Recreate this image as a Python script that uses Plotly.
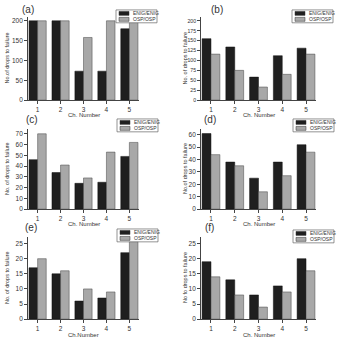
import plotly.graph_objects as go

W, H = 338, 341

channels = [1, 2, 3, 4, 5]
panel_labels = ["(a)", "(b)", "(c)", "(d)", "(e)", "(f)"]
series_names = ["ENIG/ENIG", "OSP/OSP"]

enig_a = [200, 200, 73, 73, 180]
osp_a = [200, 200, 158, 200, 200]
enig_b = [155, 134, 58, 112, 131]
osp_b = [116, 75, 33, 65, 116]
enig_c = [46, 34, 24, 25, 49]
osp_c = [70, 41, 29, 53, 62]
enig_d = [61, 38, 25, 38, 52]
osp_d = [44, 35, 14, 27, 46]
enig_e = [17, 15, 6, 7, 22]
osp_e = [20, 16, 10, 9, 27]
enig_f = [19, 13, 8, 11, 20]
osp_f = [14, 8, 4, 9, 16]

yticks_a = [0, 50, 100, 150, 200]
yticks_b = [0, 25, 50, 75, 100, 125, 150, 175, 200]
yticks_c = [0, 10, 20, 30, 40, 50, 60, 70]
yticks_d = [0, 10, 20, 30, 40, 50, 60]
yticks_e = [0, 5, 10, 15, 20, 25]
yticks_f = [0, 5, 10, 15, 20, 25]

y_titles = ["No.of drops to failure", "No. of drops to failure", "No. of drops to failure",
            "No.of drops to failure", "No. of drops to failure", "No fo drops to failure"]
x_titles = ["Ch. Number", "Ch. Number", "Ch. Number", "Ch. Number", "Ch.Number", "Ch. Number"]

enig_all = [enig_a, enig_b, enig_c, enig_d, enig_e, enig_f]
osp_all = [osp_a, osp_b, osp_c, osp_d, osp_e, osp_f]
yticks_all = [yticks_a, yticks_b, yticks_c, yticks_d, yticks_e, yticks_f]
y_tops = [210, 210, 74.6, 64.8, 27.2, 27.2]
ytick_sizes = [6.5, 5.2, 6.5, 6.5, 6.5, 6.5]

# geometry in pixels
cols = [(28, 139), (201, 316)]
rows = [(17, 101), (130, 211), (239, 322)]
xtitle_y = [116.5, 225.5, 337.5]
legend_boxes = [(116, 10), (292, 10), (117, 120), (293, 120), (117, 231), (293, 232)]
label_pos = [(28, 10), (217, 10), (32, 121), (210, 121), (31, 230), (210, 230)]
ytitle_x = [7, 185]

def px(x):
    return x / W

def py(y):
    return 1 - y / H

FONT = "Liberation Sans, Arial, sans-serif"
TXT = "#333333"
BLACK = "#1f1f1f"
GRAY = "#a8a8a8"

fig = go.Figure()
annotations = []
shapes = []

def ann(x, y, text, size, **kw):
    d = dict(x=px(x), y=py(y), xref="paper", yref="paper", text=text, showarrow=False,
             xanchor="center", yanchor="middle",
             font=dict(size=size, color=TXT, family=FONT))
    d.update(kw)
    annotations.append(d)

for i in range(6):
    r, c = divmod(i, 2)
    n = "" if i == 0 else str(i + 1)
    xa, ya = "x" + n, "y" + n
    fig.add_trace(go.Bar(x=channels, y=enig_all[i], name=series_names[0], xaxis=xa, yaxis=ya,
                         marker=dict(color=BLACK, line=dict(color="#111111", width=0.5)),
                         showlegend=False))
    fig.add_trace(go.Bar(x=channels, y=osp_all[i], name=series_names[1], xaxis=xa, yaxis=ya,
                         marker=dict(color=GRAY, line=dict(color="#444444", width=0.5)),
                         showlegend=False))
    x0, x1 = cols[c]
    t, b = rows[r]
    fig.update_layout(**{
        "xaxis" + n: dict(domain=[px(x0), px(x1)], anchor=ya, range=[0.58, 5.42],
                          tickvals=channels, ticks="outside", ticklen=3, tickwidth=0.8,
                          tickcolor="#444", showline=True, linecolor="#444", linewidth=0.8,
                          showgrid=False, zeroline=False,
                          tickfont=dict(size=6.5, color=TXT, family=FONT)),
        "yaxis" + n: dict(domain=[py(b), py(t)], anchor=xa, range=[0, y_tops[i]],
                          tickvals=yticks_all[i], ticks="outside", ticklen=3, tickwidth=0.8,
                          tickcolor="#444", showline=True, linecolor="#444", linewidth=0.8,
                          showgrid=False, zeroline=False,
                          tickfont=dict(size=ytick_sizes[i], color=TXT, family=FONT)),
    })
    # axis titles
    ann(ytitle_x[c], (t + b) / 2, y_titles[i], 5.5, textangle=-90)
    ann((x0 + x1) / 2, xtitle_y[r], x_titles[i], 6)
    # panel label
    lx, ly = label_pos[i]
    ann(lx, ly, panel_labels[i], 10)
    # legend box
    bx, by = legend_boxes[i]
    bw, bh = 41, 13
    shapes.append(dict(type="rect", xref="paper", yref="paper",
                       x0=px(bx), x1=px(bx + bw), y0=py(by + bh), y1=py(by),
                       line=dict(color="#666", width=0.7), fillcolor="white", layer="above"))
    for k, (col, nm) in enumerate(zip([BLACK, GRAY], series_names)):
        cy = by + 3.5 + k * 6
        shapes.append(dict(type="rect", xref="paper", yref="paper",
                           x0=px(bx + 3), x1=px(bx + 13), y0=py(cy + 2), y1=py(cy - 2),
                           line=dict(color="#333", width=0.5), fillcolor=col, layer="above"))
        ann(bx + 15, cy, nm, 5, xanchor="left")

fig.update_layout(width=W, height=H, margin=dict(l=0, r=0, t=0, b=0),
                  paper_bgcolor="white", plot_bgcolor="white",
                  barmode="group", bargap=0.25, bargroupgap=0,
                  annotations=annotations, shapes=shapes)

fig.write_html("out.html")
